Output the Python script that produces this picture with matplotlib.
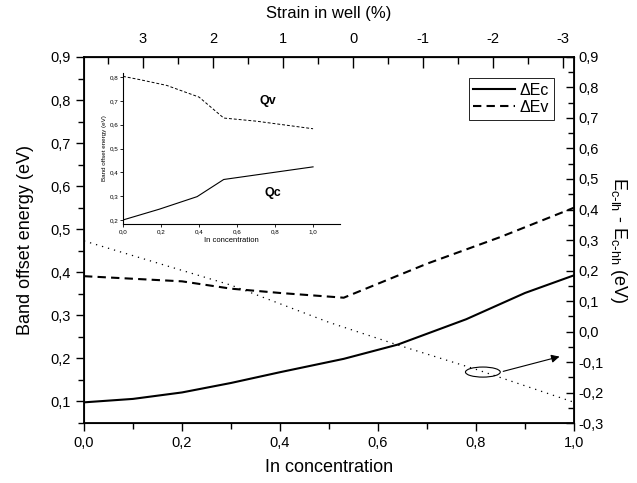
import matplotlib
matplotlib.use("Agg")
import matplotlib.pyplot as plt
from matplotlib.patches import Ellipse
from matplotlib.ticker import MultipleLocator, FuncFormatter

plt.rcParams['font.family'] = ['Liberation Sans', 'DejaVu Sans']
plt.rcParams['axes.unicode_minus'] = False

# main panel data
conc_ec = [0.0, 0.1, 0.2, 0.3, 0.4, 0.53, 0.64, 0.78, 0.9, 1.0]
delta_ec = [0.098, 0.106, 0.121, 0.143, 0.168, 0.199, 0.232, 0.291, 0.352, 0.393]
conc_ev = [0.0, 0.2, 0.3, 0.4, 0.53, 0.7, 0.85, 1.0]
delta_ev = [0.391, 0.379, 0.362, 0.352, 0.341, 0.42, 0.482, 0.55]
conc_lh = [0.0, 0.3, 0.5, 0.64, 0.8, 1.0]
e_lh_hh = [0.297, 0.152, 0.03, -0.044, -0.124, -0.232]

# inset data
conc_qv = [0.0, 0.09, 0.23, 0.4, 0.53, 0.7, 1.0]
qv = [0.803, 0.789, 0.765, 0.716, 0.628, 0.615, 0.583]
conc_qc = [0.0, 0.19, 0.39, 0.53, 1.0]
qc = [0.2, 0.245, 0.298, 0.37, 0.423]

strain_ticks = [3, 2, 1, 0, -1, -2, -3]


def comma(v, pos):
    return f"{v:.1f}".replace('.', ',')


fig = plt.figure(figsize=(6.37, 4.83), dpi=100)
ax = fig.add_axes([0.1319, 0.1242, 0.7692, 0.7578])

ax.plot(conc_ec, delta_ec, color='black', lw=1.5, label='\u0394Ec')
ax.plot(conc_ev, delta_ev, color='black', lw=1.5, dashes=(4, 2.5), label='\u0394Ev')
ax.set_xlim(0, 1)
ax.set_ylim(0.05, 0.9)
ax.xaxis.set_major_locator(MultipleLocator(0.2))
ax.xaxis.set_minor_locator(MultipleLocator(0.1))
ax.yaxis.set_major_locator(MultipleLocator(0.1))
ax.yaxis.set_minor_locator(MultipleLocator(0.05))
ax.xaxis.set_major_formatter(FuncFormatter(comma))
ax.yaxis.set_major_formatter(FuncFormatter(comma))
ax.tick_params(which='both', direction='out', labelsize=10.5, width=1)
ax.tick_params(which='major', length=6)
ax.tick_params(which='minor', length=4)
for s in ax.spines.values():
    s.set_linewidth(1.3)
ax.set_xlabel('In concentration', fontsize=13, labelpad=6)
ax.set_ylabel('Band offset energy (eV)', fontsize=13, labelpad=12)

leg = ax.legend(loc='upper right', bbox_to_anchor=(0.959, 0.943), fontsize=11.5,
                handlelength=2.6, fancybox=False, framealpha=1, edgecolor='black',
                borderpad=0.3, labelspacing=0.15, borderaxespad=0, handletextpad=0.3)
leg.get_frame().set_linewidth(0.6)

# right axis
ax2 = ax.twinx()
ax2.plot(conc_lh, e_lh_hh, color='black', lw=0.9, dashes=(1, 4))
ax2.set_ylim(-0.3, 0.9)
ax2.yaxis.set_major_locator(MultipleLocator(0.1))
ax2.yaxis.set_minor_locator(MultipleLocator(0.05))
ax2.yaxis.set_major_formatter(FuncFormatter(comma))
ax2.tick_params(which='both', direction='in', labelsize=10.5, width=1)
ax2.tick_params(which='major', length=6)
ax2.tick_params(which='minor', length=4)
ax2.set_ylabel(r'E$_\mathregular{c\text{-}lh}$ - E$_\mathregular{c\text{-}hh}$ (eV)',
               fontsize=13, rotation=270, labelpad=18)
ax2.add_patch(Ellipse((0.814, -0.133), 0.071, 0.033, fill=False, lw=0.8, color='black'))
ax2.annotate('', xy=(0.976, -0.08), xytext=(0.85, -0.133),
             arrowprops=dict(arrowstyle='-|>', color='black', lw=0.8, mutation_scale=12))

# top axis: strain
secax = ax.secondary_xaxis('top', functions=(lambda x: 7 * (0.549 - x),
                                              lambda s: 0.549 - s / 7))
secax.set_xticks(strain_ticks)
secax.set_xticklabels([str(t) for t in strain_ticks])
secax.xaxis.set_minor_locator(MultipleLocator(0.5))
secax.tick_params(which='both', direction='in', labelsize=10.5, width=1, pad=8)
secax.tick_params(which='major', length=8)
secax.tick_params(which='minor', length=5)
secax.set_xlabel('Strain in well (%)', fontsize=12, labelpad=10)

# inset
ins = fig.add_axes([0.1931, 0.5362, 0.3407, 0.3126])
ins.plot(conc_qv, qv, color='black', lw=0.7, dashes=(3, 2))
ins.plot(conc_qc, qc, color='black', lw=0.8)
ins.set_xlim(0, 1.142)
ins.set_ylim(0.183, 0.817)
ins.spines['top'].set_visible(False)
ins.spines['right'].set_visible(False)
ins.set_xticks([0, 0.2, 0.4, 0.6, 0.8, 1.0])
ins.set_yticks([0.2, 0.3, 0.4, 0.5, 0.6, 0.7, 0.8])
ins.xaxis.set_major_formatter(FuncFormatter(comma))
ins.yaxis.set_major_formatter(FuncFormatter(comma))
ins.tick_params(direction='out', length=2, width=0.6, labelsize=4.5, pad=1.5)
for s in ins.spines.values():
    s.set_linewidth(0.8)
ins.set_xlabel('In concentration', fontsize=5.5, labelpad=2)
ins.set_ylabel('Band offset energy (eV)', fontsize=4.5, labelpad=2)
ins.text(0.76, 0.70, 'Qv', fontsize=9, fontweight='bold', ha='center', va='center')
ins.text(0.79, 0.315, 'Qc', fontsize=9, fontweight='bold', ha='center', va='center')

fig.savefig('out.png', dpi=100)
